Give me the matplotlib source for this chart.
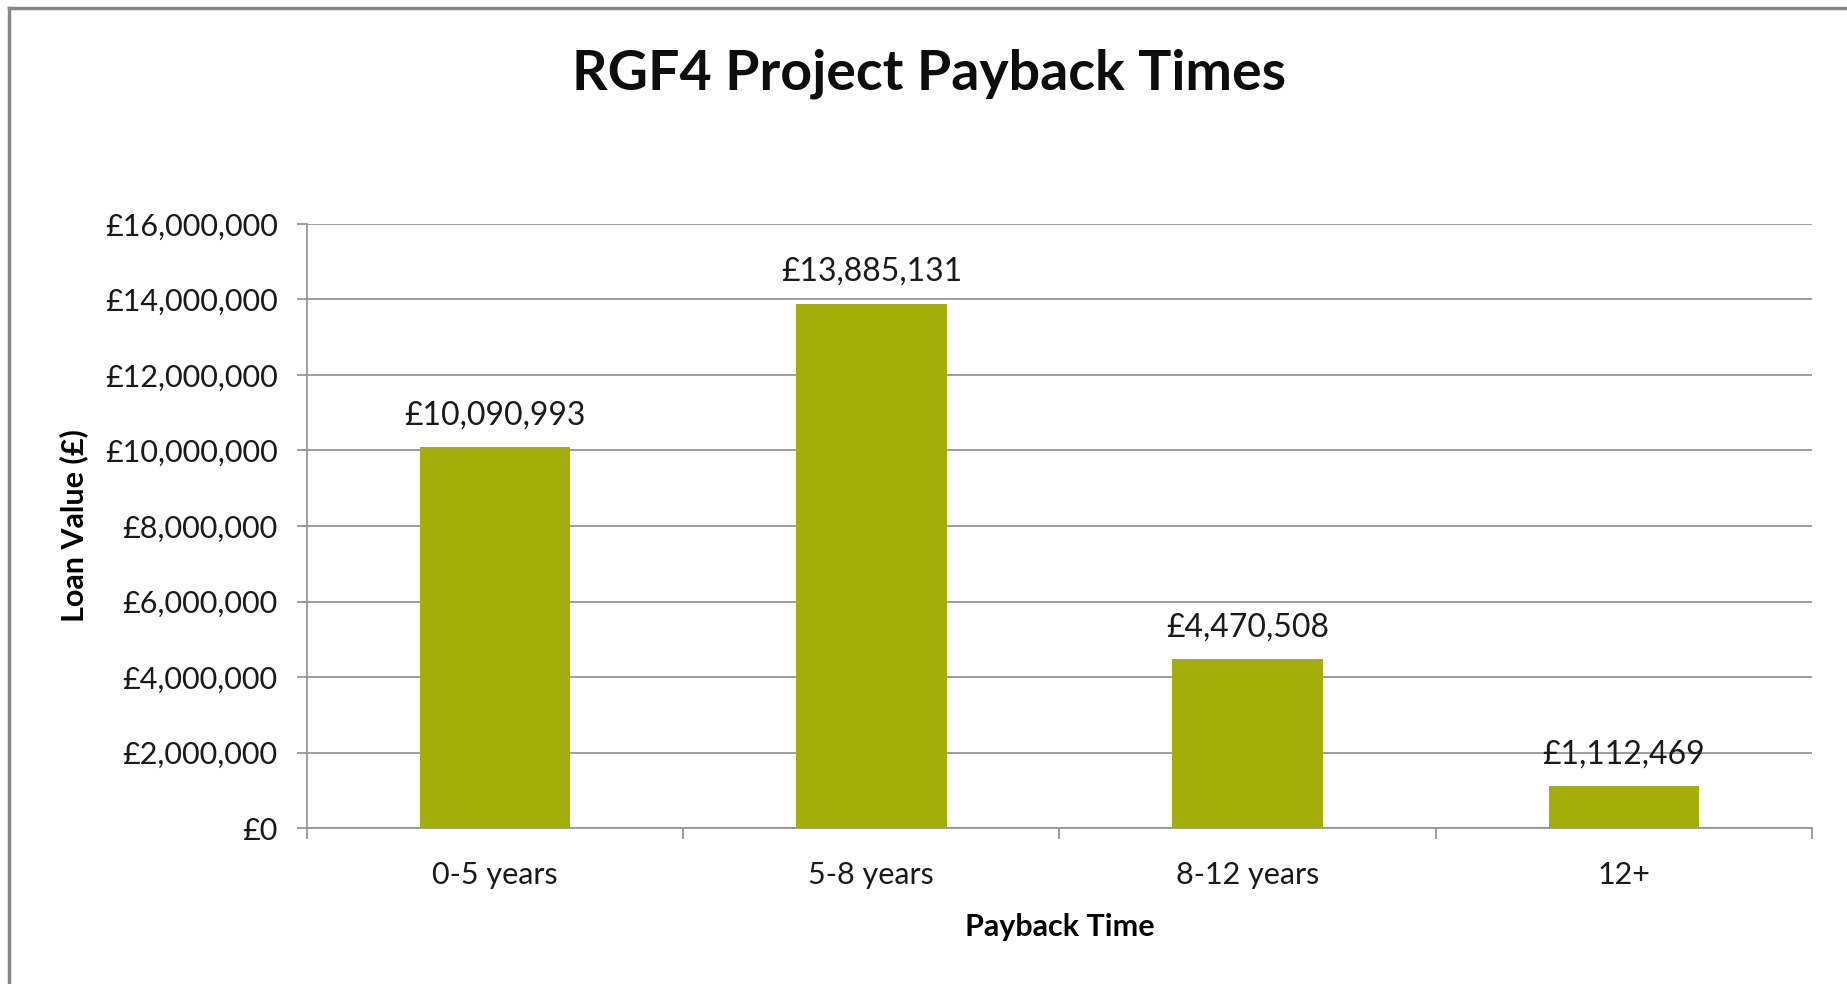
import matplotlib
matplotlib.use("Agg")
import matplotlib.pyplot as plt
from matplotlib.lines import Line2D
import numpy as np

CATEGORIES = ["0-5 years", "5-8 years", "8-12 years", "12+"]
LOAN_VALUES = [10090993, 13885131, 4470508, 1112469]
Y_TICKS = [0, 2000000, 4000000, 6000000, 8000000, 10000000, 12000000, 14000000, 16000000]

BAR_COLOR = "#A4AE08"
GRID_COLOR = "#969696"
FONT = ["Lato", "DejaVu Sans"]


def money(v):
    return f"\u00a3{v:,.0f}"


def main():
    plt.rcParams["font.family"] = FONT
    fig = plt.figure(figsize=(18.47, 9.84), dpi=100)
    ax = fig.add_axes([0.1662, 0.1585, 0.8148, 0.6139])

    x = np.arange(len(CATEGORIES))
    bars = ax.bar(x, LOAN_VALUES, width=0.40, color=BAR_COLOR, zorder=3)
    for bar, val in zip(bars, LOAN_VALUES):
        ax.annotate(money(val), xy=(bar.get_x() + bar.get_width() / 2, val),
                    xytext=(0, 23), textcoords="offset points",
                    ha="center", va="center", fontsize=23, color="#1a1a1a")

    ax.set_xlim(-0.5, len(CATEGORIES) - 0.5)
    ax.set_ylim(0, 16000000)
    ax.set_yticks(Y_TICKS)
    ax.set_yticklabels([money(v) for v in Y_TICKS])
    ax.set_xticks(x)
    ax.set_xticklabels(CATEGORIES)
    ax.set_xticks(np.arange(-0.5, len(CATEGORIES)), minor=True)

    ax.tick_params(axis="y", length=7, width=1.3, color=GRID_COLOR,
                   labelsize=22, labelcolor="#1a1a1a", pad=14)
    ax.tick_params(axis="x", which="major", length=0, labelsize=22,
                   labelcolor="#1a1a1a", pad=24)
    ax.tick_params(axis="x", which="minor", length=8, width=1.3, color=GRID_COLOR)

    ax.grid(axis="y", color=GRID_COLOR, linewidth=1.3, zorder=0)
    for side in ["top", "right"]:
        ax.spines[side].set_visible(False)
    for side in ["left", "bottom"]:
        ax.spines[side].set_color(GRID_COLOR)
        ax.spines[side].set_linewidth(1.3)

    ax.set_ylabel("Loan Value (\u00a3)", fontsize=22, fontweight="bold", labelpad=12)
    ax.set_xlabel("Payback Time", fontsize=22, fontweight="bold", labelpad=17)
    fig.text(0.503, 0.925, "RGF4 Project Payback Times", ha="center", va="center",
             fontsize=40, fontweight="bold", color="#0d0d0d")

    # chart frame (only left and top edges visible in the crop)
    fig.add_artist(Line2D([0.0049, 0.0049], [0, 0.992], transform=fig.transFigure,
                          color="#878787", linewidth=2.5))
    fig.add_artist(Line2D([0.0049, 1], [0.992, 0.992], transform=fig.transFigure,
                          color="#878787", linewidth=2.5))

    fig.savefig("out.png", dpi=100)
    plt.close(fig)


if __name__ == "__main__":
    main()
